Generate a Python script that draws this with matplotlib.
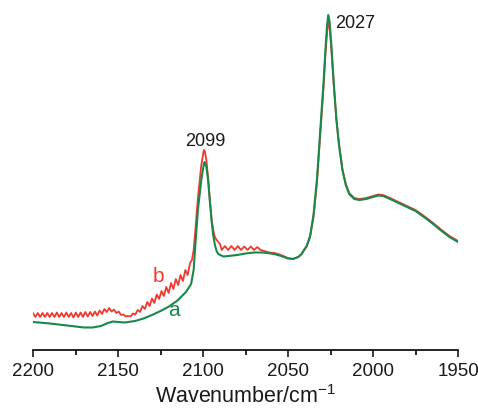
import numpy as np
import matplotlib
matplotlib.use("Agg")
import matplotlib.pyplot as plt
from matplotlib.ticker import MultipleLocator

plt.rcParams['font.family'] = ['Liberation Sans', 'DejaVu Sans']
plt.rcParams['mathtext.fontset'] = 'custom'
plt.rcParams['mathtext.rm'] = 'Liberation Sans'
plt.rcParams['mathtext.it'] = 'Liberation Sans:italic'

# ---- data (wavenumber in cm^-1, absorbance in arbitrary units) ----
wn_a = [2200, 2190, 2180, 2170, 2165, 2160, 2156, 2153, 2150, 2146, 2140, 2135,
        2130, 2125, 2120, 2115, 2110, 2107, 2105.5, 2104.5, 2103, 2101, 2099.5,
        2099, 2098, 2097, 2096, 2095, 2094, 2093, 2092, 2091, 2088, 2085, 2080,
        2075, 2070, 2065, 2060, 2057, 2054, 2050, 2047, 2044, 2042, 2041, 2039,
        2037, 2035, 2033, 2031, 2029, 2028, 2027, 2026.3, 2025.5, 2024.5, 2023,
        2021.5, 2020, 2018, 2016, 2014, 2011, 2008, 2004, 2000, 1997, 1994, 1990,
        1985, 1980, 1975, 1970, 1965, 1960, 1955, 1950]
abs_a = [0.28, 0.265, 0.245, 0.225, 0.225, 0.24, 0.27, 0.285, 0.28, 0.275, 0.29, 0.315,
         0.35, 0.39, 0.435, 0.495, 0.58, 0.66, 0.80, 1.05, 1.40, 1.70, 1.86,
         1.88, 1.83, 1.70, 1.50, 1.30, 1.15, 1.05, 0.99, 0.96, 0.935, 0.94, 0.95,
         0.965, 0.975, 0.975, 0.965, 0.955, 0.94, 0.915, 0.91, 0.93, 0.96, 0.99, 1.04,
         1.14, 1.35, 1.70, 2.20, 2.70, 3.00, 3.25, 3.35, 3.28, 3.05, 2.65,
         2.30, 2.05, 1.80, 1.65, 1.56, 1.51, 1.50, 1.51, 1.53, 1.545, 1.54, 1.51,
         1.47, 1.43, 1.39, 1.33, 1.265, 1.195, 1.13, 1.08]

wn_b = [2200.0, 2198.6, 2197.2, 2195.8, 2194.4, 2193.0, 2191.6, 2190.2, 2188.8, 2187.4,
        2186.0, 2184.6, 2183.2, 2181.8, 2180.4, 2179.0, 2177.6, 2176.2, 2174.8, 2173.4,
        2172.0, 2170.6, 2169.2, 2167.8, 2166.4, 2165.0, 2163.6, 2162.2, 2160.8, 2159.4,
        2158.0, 2156.6, 2155.2, 2153.8, 2152.4, 2151.0, 2149.6, 2148.2, 2146.8, 2145.4,
        2144.0, 2142.6, 2141.2, 2139.8, 2138.4, 2137.0, 2135.6, 2134.2, 2132.8, 2131.4,
        2130.0, 2128.6, 2127.2, 2125.8, 2124.4, 2123.0, 2121.6, 2120.2, 2118.8, 2117.4,
        2116.0, 2114.6, 2113.2, 2111.8, 2110.4, 2109.0, 2107.6, 2106.5, 2105.5, 2104.5,
        2103, 2101, 2099.5, 2099, 2098, 2097, 2096, 2095, 2094, 2093, 2092, 2091, 2090,
        2089.0, 2087.1, 2085.2, 2083.3, 2081.4, 2079.5, 2077.6, 2075.7, 2073.8, 2071.9,
        2070.0, 2068.1, 2066.2, 2064, 2061, 2058, 2055, 2052, 2050, 2047, 2044, 2042,
        2041, 2039, 2037, 2035, 2033, 2031, 2029, 2028, 2027, 2026.3, 2025.5, 2024.5,
        2023, 2021.5, 2020, 2018, 2016, 2014, 2011, 2008, 2004, 2000, 1997, 1994, 1990,
        1985, 1980, 1975, 1970, 1965, 1960, 1955, 1950]
abs_b = [0.37, 0.33, 0.37, 0.33, 0.37, 0.33, 0.37, 0.33, 0.37, 0.33,
         0.375, 0.33, 0.37, 0.33, 0.375, 0.33, 0.37, 0.325, 0.375, 0.33,
         0.375, 0.33, 0.38, 0.335, 0.38, 0.34, 0.385, 0.345, 0.395, 0.36,
         0.41, 0.38, 0.42, 0.385, 0.405, 0.37, 0.385, 0.35, 0.355, 0.335,
         0.34, 0.335, 0.365, 0.355, 0.40, 0.38, 0.44, 0.41, 0.48, 0.44,
         0.515, 0.47, 0.555, 0.51, 0.59, 0.54, 0.63, 0.57, 0.67, 0.61,
         0.71, 0.65, 0.75, 0.69, 0.80, 0.75, 0.87, 0.90, 1.00, 1.20,
         1.52, 1.85, 2.00, 1.99, 1.90, 1.72, 1.50, 1.32, 1.20, 1.13, 1.10, 1.08, 1.06,
         1.00, 1.04, 1.00, 1.04, 1.00, 1.04, 1.00, 1.035, 1.00, 1.035,
         1.00, 1.03, 1.00, 0.99, 0.975, 0.97, 0.955, 0.935, 0.918, 0.912, 0.93, 0.958,
         0.985, 1.035, 1.13, 1.33, 1.67, 2.16, 2.65, 2.95, 3.18, 3.27, 3.22, 3.01,
         2.63, 2.30, 2.06, 1.81, 1.66, 1.57, 1.52, 1.51, 1.52, 1.54, 1.555, 1.55, 1.52,
         1.48, 1.44, 1.40, 1.34, 1.275, 1.205, 1.14, 1.09]

xticks = [2200, 2150, 2100, 2050, 2000, 1950]
peak_labels = [("2099", 2098.8, 2.08), ("2027", 2022.4, 3.27)]

red = '#f2392f'
green = '#17894a'
ink = '#1a1a1a'

fig = plt.figure(figsize=(4.78, 4.09), dpi=100)
ax = fig.add_axes([33/478, (409-350)/409, 425/478, 350/409])

ax.plot(wn_b, abs_b, color=red, lw=1.3)
ax.plot(wn_a, abs_a, color=green, lw=1.5)

ax.set_xlim(2200, 1950)
ax.set_ylim(0, 3.5)
ax.set_xticks(xticks)
ax.xaxis.set_minor_locator(MultipleLocator(25))
for s in ['top', 'right', 'left']:
    ax.spines[s].set_visible(False)
ax.spines['bottom'].set_linewidth(1.2)
ax.set_yticks([])
ax.tick_params(axis='x', which='major', direction='out', length=5, width=1.2,
               labelsize=13.5, pad=4, colors=ink)
ax.tick_params(axis='x', which='minor', direction='out', length=3.5, width=1.2)
ax.set_xlabel('Wavenumber/cm$^{-1}$', fontsize=15.5, labelpad=4, color=ink)

for txt, x, y in peak_labels:
    ha = 'center' if txt == "2099" else 'left'
    ax.text(x, y, txt, fontsize=13, ha=ha, va='center', color=ink)

ax.text(2126.5, 0.73, 'b', color=red, fontsize=15, ha='center', va='center')
ax.text(2117, 0.39, 'a', color=green, fontsize=15, ha='center', va='center')

fig.savefig('out.png', dpi=100)
